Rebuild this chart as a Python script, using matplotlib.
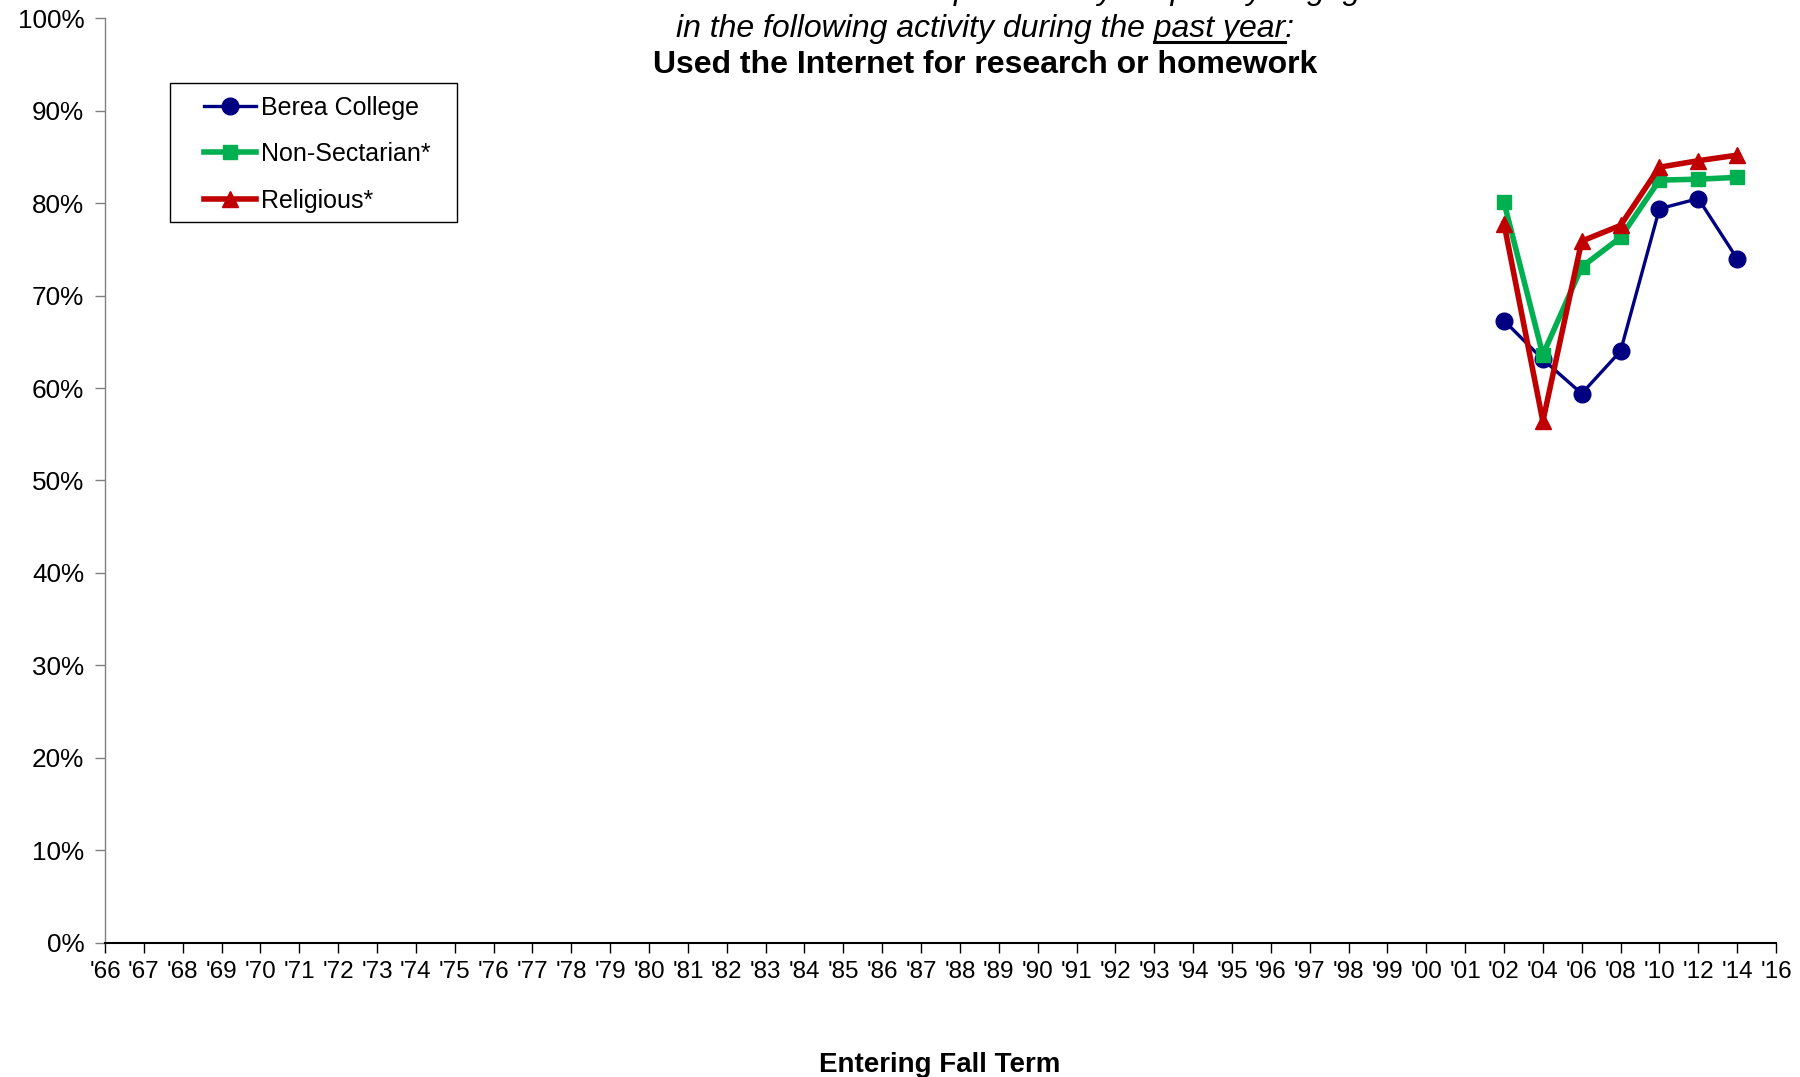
import matplotlib
matplotlib.use("Agg")
import matplotlib.pyplot as plt
from matplotlib.lines import Line2D
from matplotlib.patches import Rectangle
from matplotlib.ticker import FuncFormatter

plt.rcParams['font.family'] = ['Liberation Sans', 'DejaVu Sans']

# category axis labels (entering fall term)
year_labels = ["'66", "'67", "'68", "'69", "'70", "'71", "'72", "'73", "'74", "'75",
               "'76", "'77", "'78", "'79", "'80", "'81", "'82", "'83", "'84", "'85",
               "'86", "'87", "'88", "'89", "'90", "'91", "'92", "'93", "'94", "'95",
               "'96", "'97", "'98", "'99", "'00", "'01", "'02", "'04", "'06", "'08",
               "'10", "'12", "'14", "'16"]

# survey years that have data
data_years = ["'02", "'04", "'06", "'08", "'10", "'12", "'14"]

berea = [67.3, 63.1, 59.4, 64.0, 79.4, 80.5, 74.0]
non_sectarian = [80.1, 63.6, 73.1, 76.3, 82.5, 82.6, 82.8]
religious = [77.8, 56.4, 75.9, 77.6, 83.9, 84.6, 85.2]

x_data = [year_labels.index(y) for y in data_years]

W, H = 1800, 1077
fig = plt.figure(figsize=(18, 10.77), dpi=100)
ax = fig.add_axes([105 / W, 1 - 942.5 / H, (1776 - 105) / W, (942.5 - 18.4) / H])

ax.plot(x_data, berea, color='#000080', lw=2.4, marker='o', ms=12,
        label='Berea College', clip_on=False)
ax.plot(x_data, non_sectarian, color='#00B050', lw=4, marker='s', ms=10.5,
        label='Non-Sectarian*', clip_on=False)
ax.plot(x_data, religious, color='#C00000', lw=4, marker='^', ms=12,
        label='Religious*', clip_on=False)

ax.set_xlim(0, len(year_labels) - 1)
ax.set_ylim(0, 100)
ax.set_xticks(range(len(year_labels)))
ax.set_xticklabels(year_labels, fontsize=17.5)
ax.set_yticks(range(0, 101, 10))
ax.yaxis.set_major_formatter(FuncFormatter(lambda v, p: f'{int(v)}%'))
ax.tick_params(axis='y', labelsize=18.8, length=7, width=1, color='#808080', pad=8)
ax.tick_params(axis='x', length=7, width=1, color='black', pad=6)

for s in ['top', 'right']:
    ax.spines[s].set_visible(False)
ax.spines['left'].set_color('#808080')
ax.spines['bottom'].set_color('black')
ax.spines['left'].set_linewidth(1)
ax.spines['bottom'].set_linewidth(1.5)

fig.text(940 / W, 1 - 1065 / H, 'Entering Fall Term', ha='center', va='center',
         fontsize=20, fontweight='bold')

# legend box drawn separately so its padding matches the original
ax.add_patch(Rectangle((170 / W, 1 - 222 / H), (457 - 170) / W, (222 - 83) / H,
                       transform=fig.transFigure, facecolor='white',
                       edgecolor='black', lw=1, zorder=4, clip_on=False))
leg = ax.legend(loc='upper left', bbox_to_anchor=(203.5 / W, 1 - 95.6 / H),
                bbox_transform=fig.transFigure, fontsize=18, frameon=False,
                handlelength=2.1, borderpad=0, labelspacing=0.9,
                handletextpad=0.2, borderaxespad=0)
leg.set_zorder(5)

# title lines (first line is cut off at the top of the image)
cx = 985 / W
fig.text(cx, 1 + 1 / H, 'Percent of students who reported they frequently engaged',
         ha='center', va='baseline', fontsize=23, fontstyle='italic')
prefix = 'in the following activity during the '
under = 'past year'
line2 = fig.text(cx, 1 - 28.5 / H, prefix + under + ':', ha='center', va='center',
                 fontsize=23, fontstyle='italic')
fig.text(cx, 1 - 65 / H, 'Used the Internet for research or homework',
         ha='center', va='center', fontsize=23, fontweight='bold')

# underline "past year"
fig.canvas.draw()
r = fig.canvas.get_renderer()
bb = line2.get_window_extent(r)
tmp1 = fig.text(0, 0, prefix, fontsize=23, fontstyle='italic')
tmp2 = fig.text(0, 0, prefix + under, fontsize=23, fontstyle='italic')
w1 = tmp1.get_window_extent(r).width
w2 = tmp2.get_window_extent(r).width
tmp1.remove()
tmp2.remove()
uy = bb.y0 + 2
fig.add_artist(Line2D([(bb.x0 + w1) / W, (bb.x0 + w2) / W],
                      [uy / H, uy / H], color='black', lw=2.2,
                      transform=fig.transFigure))

fig.savefig('out.png', dpi=100)
